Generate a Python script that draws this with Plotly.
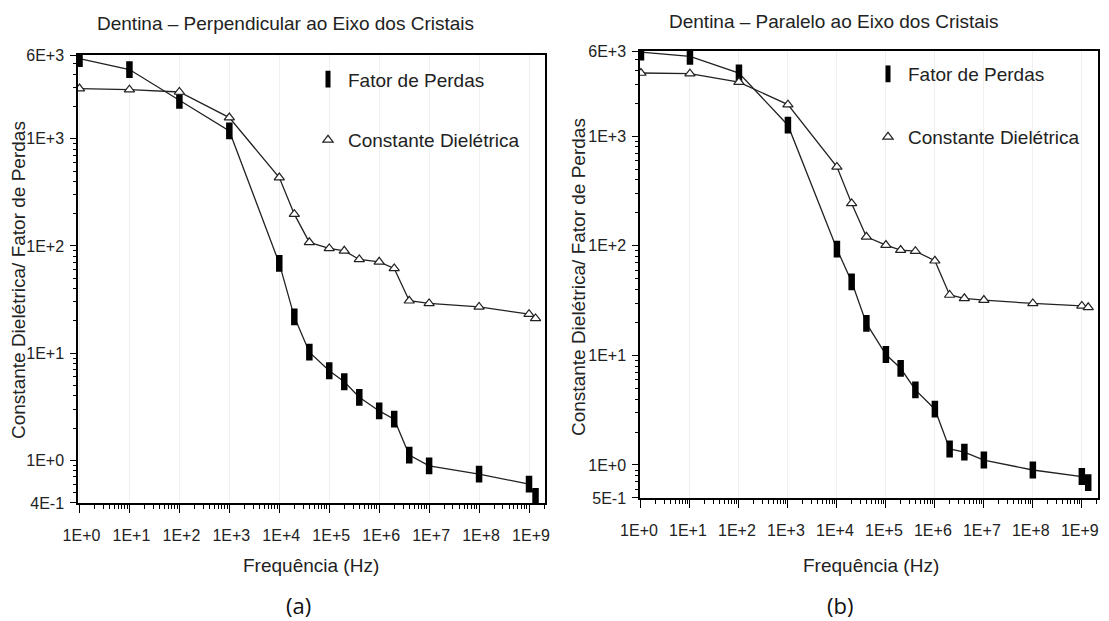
import math
import plotly.graph_objects as go

# ---------------- data ----------------
freq = [1, 10, 100, 1e3, 1e4, 2e4, 4e4, 1e5, 2e5, 4e5, 1e6, 2e6, 4e6, 1e7, 1e8, 1e9, 1.35e9]

perp_fator = [5600, 4420, 2285, 1183, 68.7, 21.8, 10.2, 6.85, 5.41, 3.87, 2.89, 2.42, 1.12, 0.887, 0.742, 0.60, 0.46]
perp_const = [2940, 2870, 2730, 1575, 434, 198, 108, 94.8, 90, 74.8, 71.1, 61.7, 30.8, 29.1, 27.0, 23.1, 21.1]

par_fator = [5870, 5370, 3780, 1262, 93.4, 47, 19.6, 10.2, 7.63, 4.84, 3.23, 1.40, 1.31, 1.11, 0.90, 0.785, 0.69]
par_const = [3780, 3730, 3125, 1945, 526, 244, 121, 101.7, 91.5, 89.5, 73.1, 35.6, 33.2, 32.0, 29.8, 28.3, 27.5]

x_tickvals = [1, 10, 100, 1e3, 1e4, 1e5, 1e6, 1e7, 1e8, 1e9]
x_ticktext = ["1E+0", "1E+1", "1E+2", "1E+3", "1E+4", "1E+5", "1E+6", "1E+7", "1E+8", "1E+9"]

left_y_tickvals = [6000, 1000, 100, 10, 1, 0.4]
left_y_ticktext = ["6E+3", "1E+3", "1E+2", "1E+1", "1E+0", "4E-1"]
right_y_tickvals = [6000, 1000, 100, 10, 1, 0.5]
right_y_ticktext = ["6E+3", "1E+3", "1E+2", "1E+1", "1E+0", "5E-1"]

title_left = "Dentina – Perpendicular ao Eixo dos Cristais"
title_right = "Dentina – Paralelo ao Eixo dos Cristais"
x_title = "Frequência (Hz)"
y_title = "Constante Dielétrica/ Fator de Perdas"
name_fator = "Fator de Perdas"
name_const = "Constante Dielétrica"

# ---------------- layout helpers ----------------
# the page body has an 8px margin, so the figure is drawn 8px in from the corner
OFF = 8
W, H = 1109 - OFF, 621 - OFF
FONT = "Liberation Sans, Arial, sans-serif"
TXT = "#222222"


def minor_vals(lo_exp, hi_exp):
    vals = []
    for e in range(lo_exp, hi_exp + 1):
        for m in range(2, 10):
            vals.append(m * 10 ** e)
    return vals


def px_x(p):
    return (p - OFF) / W


def px_y(p):
    return 1 - (p - OFF) / H


fator_marker = dict(symbol="line-ns", size=12, color="black", line=dict(width=6.5, color="black"))
const_marker = dict(symbol="triangle-up", size=9, color="white", line=dict(width=1.2, color="#222222"))
line_style = dict(color="#222222", width=1.3)

fig = go.Figure()

# data traces (lines + markers)
for xs, ys, mk, xa, ya in [
    (freq, perp_fator, fator_marker, "x", "y"),
    (freq, perp_const, const_marker, "x", "y"),
    (freq, par_fator, fator_marker, "x2", "y2"),
    (freq, par_const, const_marker, "x2", "y2"),
]:
    fig.add_trace(go.Scatter(x=xs, y=ys, mode="lines+markers", line=line_style, marker=mk,
                             xaxis=xa, yaxis=ya, showlegend=False, hoverinfo="x+y"))

# legend entries (marker only, like the reference key)
for nm, mk, xa, ya, lg in [
    (name_fator, fator_marker, "x", "y", "legend"),
    (name_const, const_marker, "x", "y", "legend2"),
    (name_fator, fator_marker, "x2", "y2", "legend3"),
    (name_const, const_marker, "x2", "y2", "legend4"),
]:
    fig.add_trace(go.Scatter(x=[None], y=[None], mode="markers", marker=mk, name=nm,
                             xaxis=xa, yaxis=ya, legend=lg, showlegend=True))


def xaxis(domain, anchor, rng, shift):
    return dict(type="log", domain=domain, anchor=anchor, range=rng,
                tickmode="array", tickvals=x_tickvals, ticktext=x_ticktext,
                ticks="outside", ticklen=8, tickwidth=1.2, tickcolor="black",
                showline=True, linecolor="black", linewidth=1.5, mirror=True,
                showgrid=True, gridcolor="#f0f0f0", gridwidth=1, zeroline=False,
                minor=dict(tickmode="array", tickvals=minor_vals(0, 9), ticks="outside",
                           ticklen=4, tickwidth=1, tickcolor="black", showgrid=False),
                tickfont=dict(family=FONT, size=16, color=TXT),
                ticklabelstandoff=9, ticklabelshift=shift, automargin=False)


def yaxis(domain, anchor, rng, tv, tt):
    return dict(type="log", domain=domain, anchor=anchor, range=rng,
                tickmode="array", tickvals=tv, ticktext=tt,
                ticks="outside", ticklen=6, tickwidth=1.2, tickcolor="black",
                showline=True, linecolor="black", linewidth=1.5, mirror=True,
                showgrid=False, zeroline=False,
                minor=dict(tickmode="array", tickvals=minor_vals(-1, 3), ticks="outside",
                           ticklen=3, tickwidth=1, tickcolor="black", showgrid=False),
                tickfont=dict(family=FONT, size=16, color=TXT),
                ticklabelstandoff=3, automargin=False)


eps = 0.003
fig.update_layout(
    width=W, height=H,
    margin=dict(l=0, r=0, t=0, b=0, pad=0, autoexpand=False),
    paper_bgcolor="white", plot_bgcolor="white",
    font=dict(family=FONT, color=TXT),
    showlegend=True,
    xaxis=xaxis([px_x(78), px_x(545)], "y", [-0.03, 9.32], 2),
    yaxis=yaxis([px_y(503.3), px_y(55)], "x",
                [math.log10(0.4) - eps, math.log10(6000) + eps], left_y_tickvals, left_y_ticktext),
    xaxis2=xaxis([px_x(640), px_x(1098)], "y2", [-0.02, 9.33], -2),
    yaxis2=yaxis([px_y(498.3), px_y(50.7)], "x2",
                 [math.log10(0.5) - eps, math.log10(6000) + eps], right_y_tickvals, right_y_ticktext),
)

leg_common = dict(xanchor="left", yanchor="middle", bgcolor="rgba(0,0,0,0)", borderwidth=0,
                  font=dict(family=FONT, size=19, color=TXT))
fig.update_layout(
    legend=dict(x=px_x(336 - 28), y=px_y(79.3), **leg_common),
    legend2=dict(x=px_x(336 - 28), y=px_y(140), **leg_common),
    legend3=dict(x=px_x(896 - 28), y=px_y(74), **leg_common),
    legend4=dict(x=px_x(896 - 28), y=px_y(137), **leg_common),
)


def annot(text, x, y, size=19, family=FONT, angle=0, color=TXT):
    return dict(text=text, x=px_x(x), y=px_y(y), xref="paper", yref="paper",
                xanchor="center", yanchor="middle", textangle=angle,
                showarrow=False, font=dict(family=family, size=size, color=color))


ann = [
    annot(title_left, 285, 23),
    annot(title_right, 834, 21),
    annot(x_title, 311, 565),
    annot(x_title, 871, 565),
    annot(y_title, 18, 280, angle=-90),
    annot(y_title, 578, 277, angle=-90),
    annot("(a)", 298, 605, size=22, family="Open Sans, Noto Sans, sans-serif", color="#111111"),
    annot("(b)", 840, 605, size=22, family="Open Sans, Noto Sans, sans-serif", color="#111111"),
]
fig.update_layout(annotations=ann)

fig.write_html("out.html")
